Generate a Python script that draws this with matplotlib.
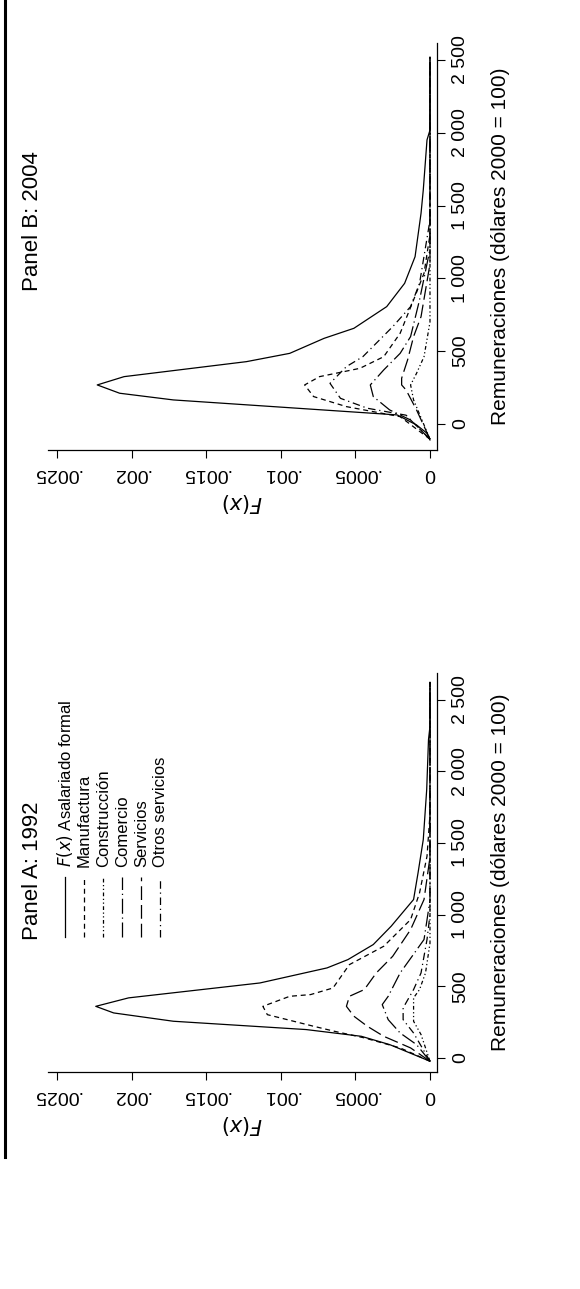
import matplotlib
matplotlib.use("Agg")
import matplotlib.pyplot as plt
from matplotlib.lines import Line2D

plt.rcParams['font.family'] = ['Liberation Sans', 'DejaVu Sans']

names = ["$F(x)$ Asalariado formal", "Manufactura", "Construcción", "Comercio", "Servicios", "Otros servicios"]
styles = ['-', (0, (4, 3)), (0, (3, 2, 1, 2, 1, 2)), (0, (12, 3, 1, 3)), (0, (11, 4)), (0, (6, 3, 1, 3))]

# Panel A: 1992  (remuneración, densidad)
a_tot_r = [-23, 93, 151, 198, 256, 314, 360, 419, 523, 628, 686, 791, 919, 1105, 1291, 1523, 1872, 2220, 2314, 2620]
a_tot_f = [0, .00027, .00046, .00083, .00172, .00212, .00224, .00202, .00114, .00069, .00055, .00038, .00026, .00011, .00008, .000045, .000022, .00001, 0, 0]
a_man_r = [-23, 70, 140, 186, 221, 302, 360, 430, 442, 488, 651, 779, 965, 1151, 1407, 1700, 2620]
a_man_f = [0, .0002, .00044, .00064, .00078, .00109, .00112, .00094, .0008, .00065, .00054, .00031, .00013, .00007, .00002, 0, 0]
a_con_r = [-23, 163, 256, 419, 477, 593, 800, 2620]
a_con_f = [0, .00006, .00011, .00011, .00007, .00003, 0, 0]
a_com_r = [-23, 93, 174, 267, 372, 430, 593, 709, 826, 1100, 2620]
a_com_f = [0, .00009, .0002, .00028, .00032, .00028, .0002, .00012, .00004, 0, 0]
a_ser_r = [-23, 70, 151, 221, 291, 360, 430, 477, 593, 709, 895, 1105, 1400, 2620]
a_ser_f = [0, .00013, .00031, .00042, .00051, .00056, .00054, .00044, .00036, .00025, .00013, .00004, 0, 0]
a_otr_r = [-23, 174, 267, 349, 477, 593, 826, 1000, 2620]
a_otr_f = [0, .00011, .00018, .00018, .00011, .00006, .00002, 0, 0]

# Panel B: 2004
b_tot_r = [-110, -64, -7, 62, 165, 211, 268, 325, 428, 485, 588, 657, 806, 966, 1149, 1447, 1607, 1951, 2019, 2520]
b_tot_f = [0, .00002, .00009, .00022, .00172, .00208, .00223, .00205, .00123, .00094, .00071, .00051, .00029, .00017, .0001, .00006, .000045, .00002, 0, 0]
b_man_r = [-105, 50, 119, 188, 268, 325, 382, 462, 623, 852, 1035, 1300, 2520]
b_man_f = [0, .0002, .00056, .00078, .00084, .00074, .00047, .00031, .0002, .00011, .00004, 0, 0]
b_con_r = [-105, 165, 268, 348, 462, 700, 2520]
b_con_f = [0, .00011, .00013, .00009, .00004, 0, 0]
b_com_r = [-105, 27, 96, 188, 268, 371, 485, 600, 852, 1200, 2520]
b_com_f = [0, .00013, .00027, .00038, .0004, .00031, .0002, .00013, .00007, 0, 0]
b_ser_r = [-105, 96, 233, 268, 314, 440, 600, 737, 1100, 2520]
b_ser_f = [0, .00009, .00016, .00019, .00019, .00015, .00011, .00006, 0, 0]
b_otr_r = [-105, 60, 108, 176, 279, 394, 462, 668, 806, 966, 1400, 2520]
b_otr_f = [0, .00016, .00042, .0006, .00067, .00056, .00045, .00025, .00013, .00007, 0, 0]

f_ticks = [0, .0005, .001, .0015, .002, .0025]
f_labels = ["0", ".0005", ".001", ".0015", ".002", ".0025"]
r_ticks = [0, 500, 1000, 1500, 2000, 2500]
r_labels = ["0", "500", "1 000", "1 500", "2 000", "2 500"]

W, H = 580, 1289
fig = plt.figure(figsize=(5.8, 12.89), dpi=100)

def make_ax(top_px, bot_px, ylim, series, title, title_y, legend):
    ax = fig.add_axes([48 / W, 1 - bot_px / H, (437 - 48) / W, (bot_px - top_px) / H])
    for (r, f), ls in zip(series, styles):
        ax.plot(f, r, color='black', lw=0.9, linestyle=ls)
    ax.set_xlim(0.00256, -0.000047)
    ax.set_ylim(*ylim)
    for s in ['top', 'left']:
        ax.spines[s].set_visible(False)
    ax.spines['bottom'].set_linewidth(0.9)
    ax.spines['right'].set_linewidth(0.9)
    ax.yaxis.tick_right()
    ax.yaxis.set_label_position('right')
    ax.set_xticks(f_ticks)
    ax.set_xticklabels(f_labels, rotation=180, fontsize=14)
    ax.set_yticks(r_ticks)
    ax.set_yticklabels(r_labels, rotation=90, va='center', fontsize=14)
    ax.tick_params(length=6, width=0.8, pad=5)
    ax.set_ylabel("Remuneraciones (dólares 2000 = 100)", rotation=90, fontsize=15, labelpad=16)
    ax.set_xlabel("$F(x)$", rotation=180, fontsize=15, labelpad=6)
    ax.text(-0.04, title_y, title, transform=ax.transAxes, rotation=90, fontsize=16,
            ha='center', va='bottom')
    if legend:
        for i, (nm, ls) in enumerate(zip(names, styles)):
            x = 0.044 + i * 0.049
            ax.plot([x, x], [0.338, 0.489], transform=ax.transAxes, color='black', lw=0.9, linestyle=ls)
            ax.text(x, 0.515, nm, transform=ax.transAxes, rotation=90, fontsize=12,
                    ha='center', va='bottom')
    return ax

make_ax(673, 1072, (-98, 2685),
        [(a_tot_r, a_tot_f), (a_man_r, a_man_f), (a_con_r, a_con_f), (a_com_r, a_com_f), (a_ser_r, a_ser_f), (a_otr_r, a_otr_f)],
        "Panel A: 1992", 0.33, True)
make_ax(43, 450, (-179, 2617),
        [(b_tot_r, b_tot_f), (b_man_r, b_man_f), (b_con_r, b_con_f), (b_com_r, b_com_f), (b_ser_r, b_ser_f), (b_otr_r, b_otr_f)],
        "Panel B: 2004", 0.39, False)

fig.add_artist(Line2D([5 / W, 5 / W], [1, 1 - 1157 / H], color='black', lw=2.2, transform=fig.transFigure))

fig.savefig("out.png", dpi=100)
